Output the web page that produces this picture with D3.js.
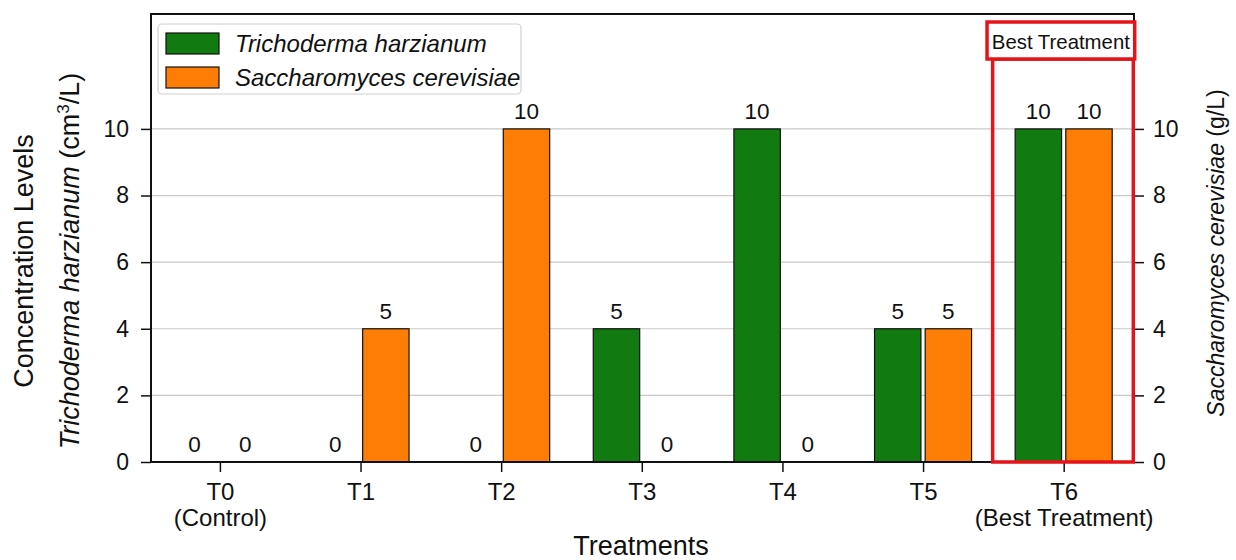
<!DOCTYPE html>
<html>
<head>
<meta charset="utf-8">
<script src="https://cdn.jsdelivr.net/npm/d3@7"></script>
<style>
  html, body { margin: 0; padding: 0; background: #fff; }
  svg { display: block; font-family: "Liberation Sans", Arial, Helvetica, sans-serif; }
</style>
</head>
<body>
<svg id="chart" width="1236" height="560"></svg>
<script>
// ---- data ----
const categories = ["T0", "T1", "T2", "T3", "T4", "T5", "T6"];
const subLabels = ["(Control)", "", "", "", "", "", "(Best Treatment)"];
const trichodermaHeights = [0, 0, 0, 4, 10, 4, 10];
const trichodermaLabels = ["0", "0", "0", "5", "10", "5", "10"];
const saccharomycesHeights = [0, 4, 10, 0, 0, 4, 10];
const saccharomycesLabels = ["0", "5", "10", "0", "0", "5", "10"];
const yTicks = [0, 2, 4, 6, 8, 10];
const seriesNames = ["Trichoderma harzianum", "Saccharomyces cerevisiae"];
const bestIndex = 6;

// ---- layout ----
const svg = d3.select("#chart");
const L = 151, R = 1134, T = 14, B = 462;
const green = "#117b11", orange = "#fd7d05", red = "#e3151b";

const x = d3.scaleLinear().domain([-0.49, 6.5]).range([L, R]);
const y = d3.scaleLinear().domain([0, 13.45]).range([B, T]);
const barW = 0.33, off = 0.18;

// grid
svg.append("g").selectAll("line").data(yTicks.filter(d => d > 0)).join("line")
  .attr("x1", L).attr("x2", R)
  .attr("y1", d => y(d)).attr("y2", d => y(d))
  .attr("stroke", "#c9c9c9").attr("stroke-width", 1.2);

// bars
const series = [
  { h: trichodermaHeights, lab: trichodermaLabels, color: green, o: -off },
  { h: saccharomycesHeights, lab: saccharomycesLabels, color: orange, o: off }
];
series.forEach(s => {
  const g = svg.append("g");
  categories.forEach((c, i) => {
    const v = s.h[i];
    const cx = x(i + s.o);
    const w = x(barW) - x(0);
    if (v > 0) {
      g.append("rect")
        .attr("x", cx - w / 2).attr("y", y(v))
        .attr("width", w).attr("height", y(0) - y(v))
        .attr("fill", s.color).attr("stroke", "#111").attr("stroke-width", 1.2);
    }
    g.append("text")
      .attr("x", cx).attr("y", y(v) - 10)
      .attr("text-anchor", "middle").attr("font-size", 22.5).attr("fill", "#111")
      .text(s.lab[i]);
  });
});

// spines
svg.append("path")
  .attr("d", `M${L},${B} L${L},${T} L${R},${T} L${R},${B}`)
  .attr("fill", "none").attr("stroke", "#111").attr("stroke-width", 2);
svg.append("line").attr("x1", L).attr("x2", R).attr("y1", B).attr("y2", B)
  .attr("stroke", "#111").attr("stroke-width", 2);

// left y axis
const yl = svg.append("g").attr("transform", `translate(${L},0)`)
  .call(d3.axisLeft(y).tickValues(yTicks).tickSize(10).tickPadding(12).tickFormat(d3.format("d")));
yl.select(".domain").remove();
yl.selectAll("line").attr("stroke", "#111").attr("stroke-width", 1.5);
yl.selectAll("text").attr("font-size", 23).attr("fill", "#111").attr("font-family", null);

// right y axis
const yr = svg.append("g").attr("transform", `translate(${R},0)`)
  .call(d3.axisRight(y).tickValues(yTicks).tickSize(10).tickPadding(9).tickFormat(d3.format("d")));
yr.select(".domain").remove();
yr.selectAll("line").attr("stroke", "#111").attr("stroke-width", 1.5);
yr.selectAll("text").attr("font-size", 23).attr("fill", "#111").attr("font-family", null);

// x axis
const xa = svg.append("g").attr("transform", `translate(0,${B})`)
  .call(d3.axisBottom(x).tickValues(d3.range(categories.length)).tickSize(10).tickFormat(() => ""));
xa.select(".domain").remove();
xa.selectAll("line").attr("stroke", "#111").attr("stroke-width", 1.5);
xa.selectAll(".tick").each(function (d) {
  const t = d3.select(this).append("text")
    .attr("text-anchor", "middle").attr("font-size", 24).attr("fill", "#111");
  t.append("tspan").attr("x", 0).attr("y", 38).text(categories[d]);
  if (subLabels[d]) t.append("tspan").attr("x", 0).attr("y", 64).text(subLabels[d]);
});

// best treatment highlight
const bx0 = x(bestIndex - 0.505), bx1 = x(bestIndex + 0.495);
svg.append("rect")
  .attr("x", bx0).attr("y", 59).attr("width", bx1 - bx0).attr("height", B - 59)
  .attr("fill", "none").attr("stroke", red).attr("stroke-width", 3.5);
const hx0 = x(bestIndex - 0.545), hx1 = x(bestIndex + 0.505);
svg.append("rect")
  .attr("x", hx0).attr("y", 22).attr("width", hx1 - hx0).attr("height", 37)
  .attr("fill", "#fff").attr("stroke", red).attr("stroke-width", 3.5);
svg.append("text")
  .attr("x", (hx0 + hx1) / 2).attr("y", 48.5)
  .attr("text-anchor", "middle").attr("font-size", 21).attr("fill", "#111")
  .attr("textLength", 138).attr("lengthAdjust", "spacingAndGlyphs")
  .text("Best Treatment");

// legend
const lg = svg.append("g");
lg.append("rect").attr("x", 158).attr("y", 24).attr("width", 363).attr("height", 70)
  .attr("rx", 4).attr("fill", "#fff").attr("fill-opacity", 0.85)
  .attr("stroke", "#d0d0d0").attr("stroke-width", 1.2);
[green, orange].forEach((c, i) => {
  const yy = 33 + i * 34;
  lg.append("rect").attr("x", 166).attr("y", yy).attr("width", 53).attr("height", 21)
    .attr("fill", c).attr("stroke", "#111").attr("stroke-width", 1.2);
  lg.append("text").attr("x", 235).attr("y", yy + 19)
    .attr("font-size", 24).attr("font-style", "italic").attr("fill", "#111")
    .text(seriesNames[i]);
});

// axis titles
const lt = svg.append("text")
  .attr("transform", `translate(0,261) rotate(-90)`)
  .attr("text-anchor", "middle").attr("fill", "#111").attr("font-size", 27);
lt.append("tspan").attr("x", 0).attr("y", 33).text("Concentration Levels");
const l2 = lt.append("tspan").attr("x", 0).attr("y", 79);
l2.append("tspan").attr("font-style", "italic").text("Trichoderma harzianum");
l2.append("tspan").text(" (cm");
l2.append("tspan").attr("font-size", 17).attr("dy", -10).text("3");
l2.append("tspan").attr("dy", 10).text("/L)");

const rt = svg.append("text")
  .attr("transform", `translate(1224,253) rotate(-90)`)
  .attr("text-anchor", "middle").attr("fill", "#111").attr("font-size", 23);
rt.append("tspan").attr("font-style", "italic").text("Saccharomyces cerevisiae");
rt.append("tspan").text(" (g/L)");

svg.append("text").attr("x", 641).attr("y", 555)
  .attr("text-anchor", "middle").attr("font-size", 27).attr("fill", "#111")
  .text("Treatments");
</script>
</body>
</html>
